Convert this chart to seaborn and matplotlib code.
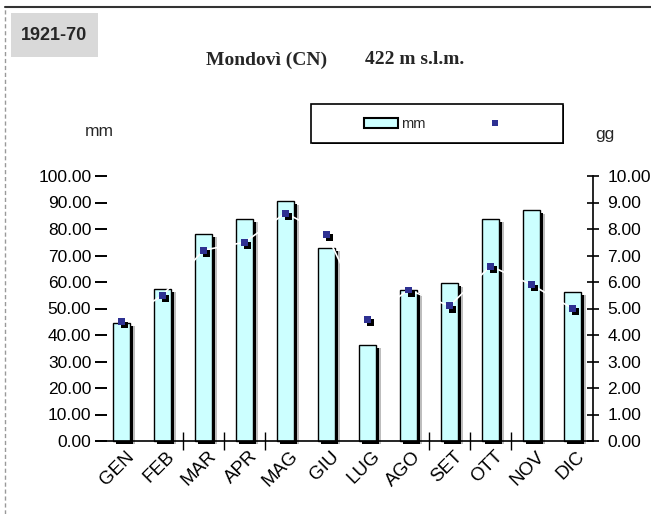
import numpy as np
import pandas as pd
import matplotlib
matplotlib.use("Agg")
import matplotlib.pyplot as plt
import matplotlib.patheffects as pe
import matplotlib.transforms as mtransforms
from matplotlib.patches import Rectangle
from matplotlib.lines import Line2D
from matplotlib.ticker import FormatStrFormatter, FixedLocator
import seaborn as sns

# Monthly climate normals, Mondovì (CN), 1921-70
mesi = ["GEN", "FEB", "MAR", "APR", "MAG", "GIU",
        "LUG", "AGO", "SET", "OTT", "NOV", "DIC"]
mm = [44.5, 57.5, 78.3, 83.9, 90.5, 72.9, 36.2, 56.9, 59.5, 83.9, 87.1, 56.4]
gg = [4.5, 5.5, 7.2, 7.5, 8.6, 7.8, 4.6, 5.7, 5.1, 6.6, 5.9, 5.0]
ticks_mm = [0, 10, 20, 30, 40, 50, 60, 70, 80, 90, 100]
ticks_gg = [0, 1, 2, 3, 4, 5, 6, 7, 8, 9, 10]
periodo = "1921-70"
stazione = "Mondovì (CN)"
quota = "422 m s.l.m."
etichetta_mm = "mm"
etichetta_gg = "gg"

sns.set_style("white")
plt.rcParams["font.family"] = ["Liberation Sans", "DejaVu Sans"]

W, H = 651, 514
fig = plt.figure(figsize=(W / 100, H / 100), dpi=100)
fig.patch.set_facecolor("white")


def fx(x):
    return x / W


def fy(y):
    return 1 - y / H


BAR_FILL = "#CCFFFF"
DOT = "#2E3192"

ax = fig.add_axes([fx(101), fy(441), fx(593) - fx(101), fy(176) - fy(441)])
df = pd.DataFrame({"mese": mesi, "mm": mm, "gg": gg})
df["pos"] = np.arange(len(df))

sns.barplot(data=df, x="mese", y="mm", color=BAR_FILL, saturation=1,
            width=0.41, edgecolor="black", linewidth=1.0, errorbar=None, ax=ax)
for bar in ax.patches:
    bar.set_clip_on(False)
    bar.set_path_effects([
        pe.SimplePatchShadow(offset=(3.4, -2.4), shadow_rgbFace="#BDBDBD", alpha=1),
        pe.SimplePatchShadow(offset=(2.0, -2.2), shadow_rgbFace="black", alpha=1),
        pe.Normal(),
    ])

ax.set_ylim(0, 100)
ax.set_yticks(ticks_mm)
ax.yaxis.set_major_formatter(FormatStrFormatter("%.2f"))
ax.set_xlabel("")
ax.set_ylabel("")
for s in ("top", "left", "right"):
    ax.spines[s].set_visible(False)
ax.spines["bottom"].set_color("black")
ax.spines["bottom"].set_linewidth(1.2)
ax.tick_params(axis="y", left=True, direction="inout", length=8, width=1.4,
               color="black", pad=3, labelsize=12.5, labelcolor="black")
ax.tick_params(axis="x", which="major", bottom=True, length=0, pad=5,
               labelsize=13.5, labelcolor="black")
ax.xaxis.set_minor_locator(FixedLocator([1.5, 2.5, 3.5, 7.5, 8.5, 9.5]))
ax.tick_params(axis="x", which="minor", bottom=True, direction="inout",
               length=13, width=1.0, color="black")
shift = mtransforms.ScaledTranslation(4 / 100, 0, fig.dpi_scale_trans)
for lab in ax.get_xticklabels():
    lab.set_rotation(45)
    lab.set_ha("right")
    lab.set_va("top")
    lab.set_rotation_mode("anchor")
    lab.set_transform(lab.get_transform() + shift)

# rainy days on the secondary axis
ax2 = ax.twinx()
sns.lineplot(data=df, x="pos", y="gg", color="white", linewidth=1.2,
             sort=False, ax=ax2)
sns.scatterplot(data=df, x="pos", y="gg", marker="s", s=24, color=DOT,
                edgecolor="none", linewidth=0, zorder=4, ax=ax2)
ax2.collections[-1].set_path_effects([
    pe.SimplePatchShadow(offset=(2.0, -2.4), shadow_rgbFace="black", alpha=1),
    pe.Normal(),
])
ax2.set_ylim(0, 10)
ax2.set_yticks(ticks_gg)
ax2.yaxis.set_major_formatter(FormatStrFormatter("%.2f"))
ax2.set_ylabel("")
for s in ("top", "left", "bottom"):
    ax2.spines[s].set_visible(False)
ax2.spines["right"].set_color("black")
ax2.spines["right"].set_linewidth(1.2)
ax2.tick_params(axis="y", right=True, direction="inout", length=9, width=1.2,
                color="black", pad=6, labelsize=12.5, labelcolor="black")
ax.set_xlim(-0.5, len(mesi) - 0.5)

# axis unit labels
fig.text(fx(99), fy(132), etichetta_mm, ha="center", va="center", fontsize=12.5)
fig.text(fx(605), fy(135), etichetta_gg, ha="center", va="center", fontsize=12.5)

# title
fig.text(fx(206), fy(60), stazione, ha="left", va="center", fontsize=14,
         fontweight="bold", family=["Liberation Serif", "DejaVu Serif"])
fig.text(fx(365), fy(60), quota, ha="left", va="center", fontsize=14,
         fontweight="bold", family=["Liberation Serif", "DejaVu Serif"])

# period badge
fig.add_artist(Rectangle((fx(11), fy(57)), fx(98) - fx(11), fy(13) - fy(57),
                         transform=fig.transFigure, facecolor="#D9D9D9",
                         edgecolor="none"))
fig.text(fx(54), fy(35), periodo, ha="center", va="center", fontsize=13,
         fontweight="bold")

# legend frame and entries
frame = Rectangle((fx(311), fy(143)), fx(563) - fx(311), fy(104) - fy(143),
                  transform=fig.transFigure, facecolor="white",
                  edgecolor="black", linewidth=1.2, zorder=2)
frame.set_path_effects([pe.SimplePatchShadow(offset=(0.8, -0.8),
                                             shadow_rgbFace="black", alpha=1),
                        pe.Normal()])
fig.add_artist(frame)
h_bar = Rectangle((0, 0), 1, 1, facecolor=BAR_FILL, edgecolor="black",
                  linewidth=1.5)
h_dot = Line2D([], [], marker="s", linestyle="", color=DOT, markersize=4.5,
               markeredgewidth=0)
leg = fig.legend([h_bar, h_dot], [etichetta_mm, ""], ncol=2,
                 loc="center left", bbox_to_anchor=(fx(364), fy(124)),
                 bbox_transform=fig.transFigure, frameon=False, borderpad=0,
                 borderaxespad=0, handlelength=2.3, handleheight=0.7,
                 handletextpad=0.25, columnspacing=3.6, fontsize=10.5)
leg.set_zorder(3)

# outer border
fig.add_artist(Line2D([fx(5), 1], [fy(7), fy(7)], transform=fig.transFigure,
                      color="#333333", linewidth=1.5))
fig.add_artist(Line2D([fx(5), fx(5)], [0, fy(7)], transform=fig.transFigure,
                      color="#999999", linewidth=1.0, linestyle=(0, (3, 2))))

fig.savefig("out.png", dpi=100, facecolor="white")
